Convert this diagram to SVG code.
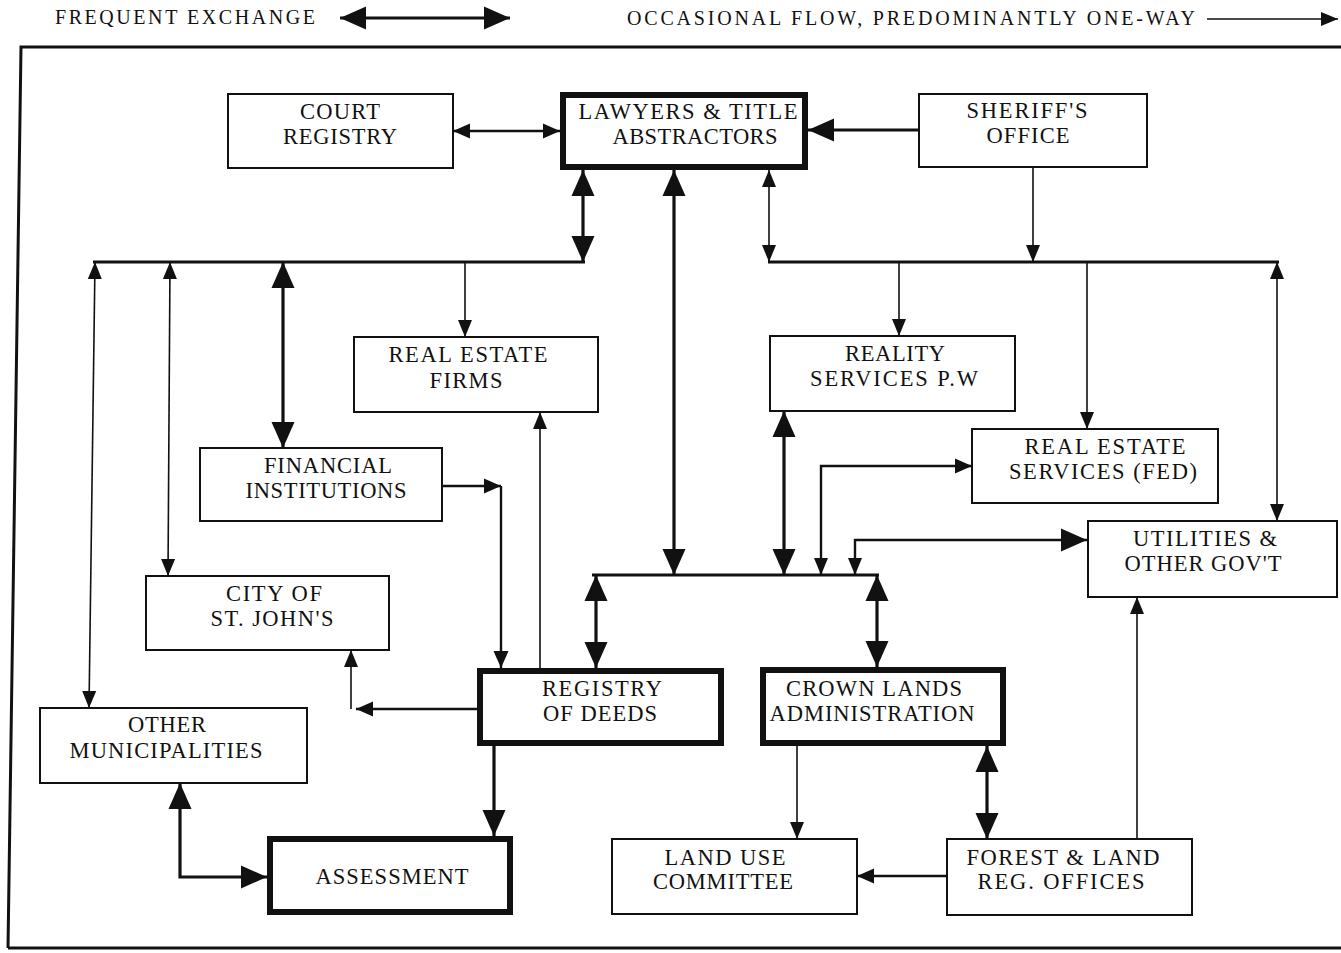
<svg xmlns="http://www.w3.org/2000/svg" width="1341" height="953" viewBox="0 0 1341 953">
  <style>
    .bg { fill: #ffffff; }
    .box { fill: #ffffff; stroke: #111111; stroke-width: 2; }
    .heavy { fill: #ffffff; stroke: #111111; stroke-width: 6; }
    .lbl { font-family: "Liberation Serif", "DejaVu Serif", serif; font-size: 22.5px; fill: #111111; text-anchor: middle; }
    .key { font-family: "Liberation Serif", "DejaVu Serif", serif; font-size: 20px; fill: #111111; }
    .frame { fill: none; stroke: #111111; stroke-width: 3; }
    .thick { fill: none; stroke: #111111; stroke-width: 3.2; }
    .med { fill: none; stroke: #111111; stroke-width: 2.4; }
    .thin { fill: none; stroke: #111111; stroke-width: 1.6; }
    .bus { fill: none; stroke: #111111; stroke-width: 3; }
    .big { marker-start: url(#bigHead); marker-end: url(#bigHead); }
    .bigEnd { marker-end: url(#bigHead); }
    .small2 { marker-start: url(#smallHead); marker-end: url(#smallHead); }
    .smallEnd { marker-end: url(#smallHead); }
    .midEnd { marker-end: url(#midHead); }
  </style>
  <defs>
    <marker id="bigHead" markerUnits="userSpaceOnUse" markerWidth="27" markerHeight="23" refX="26" refY="11.5" orient="auto-start-reverse" overflow="visible">
      <path d="M0,0 L26,11.5 L0,23 z" fill="#111111"/>
    </marker>
    <marker id="midHead" markerUnits="userSpaceOnUse" markerWidth="18" markerHeight="15" refX="17" refY="7.5" orient="auto-start-reverse" overflow="visible">
      <path d="M0,0 L17,7.5 L0,15 z" fill="#111111"/>
    </marker>
    <marker id="smallHead" markerUnits="userSpaceOnUse" markerWidth="18" markerHeight="14" refX="17" refY="7" orient="auto-start-reverse" overflow="visible">
      <path d="M0,0 L17,7 L0,14 z" fill="#111111"/>
    </marker>
  </defs>

  <rect class="bg" x="0" y="0" width="1341" height="953"/>

  <!-- key -->
  <g id="legend">
    <text class="key" x="55" y="24" textLength="260" lengthAdjust="spacing">FREQUENT EXCHANGE</text>
    <path class="thick big" d="M340,18 H510"/>
    <text class="key" x="627" y="25" textLength="568" lengthAdjust="spacing">OCCASIONAL FLOW, PREDOMINANTLY ONE-WAY</text>
    <path class="thin smallEnd" d="M1207,19 H1338"/>
  </g>

  <!-- outer frame -->
  <g id="frame">
    <path class="frame" d="M8,948 L21,47 H1341"/>
    <path class="frame" d="M8,948 H1341" stroke-width="2.5"/>
  </g>

  <!-- connectors -->
  <g id="connectors">
    <!-- distribution buses -->
    <path class="bus" d="M93,262 H585"/>
    <path class="bus" d="M768,262 H1279" stroke-width="2.5"/>
    <path class="bus" d="M592,575 H879" stroke-width="4"/>

    <!-- lawyers & title abstractors -->
    <path class="med" d="M453,131 H560" marker-start="url(#midHead)" marker-end="url(#midHead)"/>
    <path class="thick bigEnd" d="M919,130 H808"/>
    <path class="thick big" d="M583,170 V262"/>
    <path class="thick big" d="M674,170 V575"/>
    <path class="thin small2" d="M769,170 V262"/>
    <path class="thin smallEnd" d="M1033,167 V262"/>

    <!-- left bus drops -->
    <path class="thin small2" d="M95,262 L89,708"/>
    <path class="thin small2" d="M170,262 L168,576"/>
    <path class="thick big" d="M283,262 V448"/>
    <path class="thin smallEnd" d="M465,262 V337"/>

    <!-- right bus drops -->
    <path class="thin smallEnd" d="M899,262 V336"/>
    <path class="thin smallEnd" d="M1087,262 V429"/>
    <path class="thin small2" d="M1277,262 V521"/>

    <!-- centre bus links -->
    <path class="thick big" d="M784,411 V575"/>
    <path class="thick big" d="M596,575 V668"/>
    <path class="thick big" d="M877,575 V667"/>
    <path class="med" d="M821,575 V466 H972" marker-start="url(#smallHead)" marker-end="url(#midHead)"/>
    <path class="med" d="M855,575 V540 H1087" marker-start="url(#smallHead)" marker-end="url(#bigHead)"/>

    <!-- registry of deeds -->
    <path class="med midEnd" d="M442,486 H501"/>
    <path class="med midEnd" d="M501,486 V668"/>
    <path class="thin smallEnd" d="M540,668 V412"/>
    <path class="med midEnd" d="M477,709 H356"/>
    <path class="thin smallEnd" d="M351,709 V650"/>
    <path class="thick bigEnd" d="M494,746 V836"/>

    <!-- municipalities / assessment -->
    <path class="thick big" d="M180,783 V877 H267"/>

    <!-- crown lands / forest offices -->
    <path class="thin smallEnd" d="M797,746 V839"/>
    <path class="thick big" d="M987,746 V839"/>
    <path class="med midEnd" d="M947,876 H857"/>
    <path class="thin smallEnd" d="M1137,839 V597"/>
  </g>

  <!-- nodes -->
  <g id="court-registry">
    <rect class="box" x="228" y="94" width="225" height="74"/>
    <text class="lbl" x="340" y="119" textLength="80" lengthAdjust="spacing">COURT</text>
    <text class="lbl" x="340" y="144" textLength="114" lengthAdjust="spacing">REGISTRY</text>
  </g>

  <g id="lawyers">
    <rect class="heavy" x="563" y="95" width="242" height="72"/>
    <text class="lbl" x="688" y="119" textLength="219" lengthAdjust="spacing">LAWYERS &amp; TITLE</text>
    <text class="lbl" x="695" y="144" textLength="165" lengthAdjust="spacing">ABSTRACTORS</text>
  </g>

  <g id="sheriff">
    <rect class="box" x="919" y="94" width="228" height="73"/>
    <text class="lbl" x="1027" y="118" textLength="121" lengthAdjust="spacing">SHERIFF'S</text>
    <text class="lbl" x="1028" y="143" textLength="83" lengthAdjust="spacing">OFFICE</text>
  </g>

  <g id="real-estate-firms">
    <rect class="box" x="354" y="337" width="244" height="75"/>
    <text class="lbl" x="468" y="362" textLength="159" lengthAdjust="spacing">REAL ESTATE</text>
    <text class="lbl" x="466" y="388" textLength="73" lengthAdjust="spacing">FIRMS</text>
  </g>

  <g id="reality-services">
    <rect class="box" x="770" y="336" width="245" height="75"/>
    <text class="lbl" x="895" y="361" textLength="100" lengthAdjust="spacing">REALITY</text>
    <text class="lbl" x="894" y="386" textLength="168" lengthAdjust="spacing">SERVICES P.W</text>
  </g>

  <g id="financial">
    <rect class="box" x="200" y="448" width="242" height="73"/>
    <text class="lbl" x="328" y="473" textLength="128" lengthAdjust="spacing">FINANCIAL</text>
    <text class="lbl" x="326" y="498" textLength="161" lengthAdjust="spacing">INSTITUTIONS</text>
  </g>

  <g id="real-estate-fed">
    <rect class="box" x="972" y="429" width="246" height="74"/>
    <text class="lbl" x="1105" y="454" textLength="161" lengthAdjust="spacing">REAL ESTATE</text>
    <text class="lbl" x="1103" y="479" textLength="188" lengthAdjust="spacing">SERVICES (FED)</text>
  </g>

  <g id="utilities">
    <rect class="box" x="1088" y="521" width="249" height="76"/>
    <text class="lbl" x="1205" y="546" textLength="144" lengthAdjust="spacing">UTILITIES &amp;</text>
    <text class="lbl" x="1203" y="571" textLength="157" lengthAdjust="spacing">OTHER GOV'T</text>
  </g>

  <g id="city-st-johns">
    <rect class="box" x="146" y="576" width="243" height="74"/>
    <text class="lbl" x="274" y="601" textLength="96" lengthAdjust="spacing">CITY OF</text>
    <text class="lbl" x="272" y="626" textLength="123" lengthAdjust="spacing">ST. JOHN'S</text>
  </g>

  <g id="registry-of-deeds">
    <rect class="heavy" x="480" y="671" width="241" height="72"/>
    <text class="lbl" x="602" y="696" textLength="120" lengthAdjust="spacing">REGISTRY</text>
    <text class="lbl" x="600" y="721" textLength="114" lengthAdjust="spacing">OF DEEDS</text>
  </g>

  <g id="crown-lands">
    <rect class="heavy" x="763" y="670" width="240" height="73"/>
    <text class="lbl" x="874" y="696" textLength="176" lengthAdjust="spacing">CROWN LANDS</text>
    <text class="lbl" x="872" y="721" textLength="205" lengthAdjust="spacing">ADMINISTRATION</text>
  </g>

  <g id="other-municipalities">
    <rect class="box" x="40" y="708" width="267" height="75"/>
    <text class="lbl" x="167" y="732" textLength="78" lengthAdjust="spacing">OTHER</text>
    <text class="lbl" x="166" y="758" textLength="193" lengthAdjust="spacing">MUNICIPALITIES</text>
  </g>

  <g id="assessment">
    <rect class="heavy" x="270" y="839" width="240" height="73"/>
    <text class="lbl" x="392" y="884" textLength="153" lengthAdjust="spacing">ASSESSMENT</text>
  </g>

  <g id="land-use-committee">
    <rect class="box" x="612" y="839" width="245" height="75"/>
    <text class="lbl" x="725" y="865" textLength="121" lengthAdjust="spacing">LAND USE</text>
    <text class="lbl" x="723" y="889" textLength="140" lengthAdjust="spacing">COMMITTEE</text>
  </g>

  <g id="forest-land-offices">
    <rect class="box" x="947" y="839" width="245" height="76"/>
    <text class="lbl" x="1063" y="865" textLength="193" lengthAdjust="spacing">FOREST &amp; LAND</text>
    <text class="lbl" x="1061" y="889" textLength="167" lengthAdjust="spacing">REG. OFFICES</text>
  </g>
</svg>
